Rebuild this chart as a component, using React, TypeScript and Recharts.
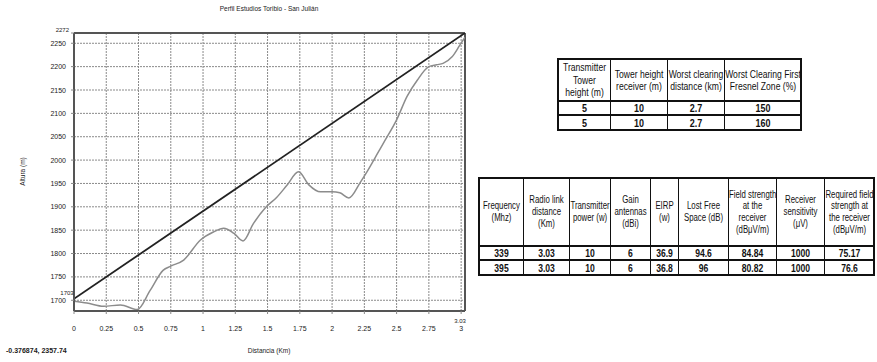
import React from 'react';
import { ComposedChart, Line, XAxis, YAxis, CartesianGrid, ReferenceLine } from 'recharts';

const FONT = "'Liberation Sans', Arial, sans-serif";

// Terrain profile (km, m)
const distances = [0, 0.1, 0.23, 0.36, 0.49, 0.59, 0.69, 0.75, 0.85, 0.98, 1.08, 1.16, 1.24, 1.31, 1.39, 1.49, 1.57, 1.65, 1.74, 1.82, 1.91, 2.0, 2.06, 2.13, 2.22, 2.27, 2.36, 2.41, 2.5, 2.58, 2.66, 2.75, 2.81, 2.86, 2.93, 2.99, 3.03];
const terrainHeights = [1698, 1694, 1687, 1690, 1680, 1721, 1764, 1773, 1786, 1829, 1846, 1854, 1843, 1827, 1864, 1900, 1920, 1946, 1975, 1947, 1932, 1932, 1930, 1919, 1953, 1975, 2018, 2042, 2086, 2136, 2171, 2200, 2204, 2207, 2221, 2246, 2263];

// Line of sight
const losDistances = [0, 3.03];
const losHeights = [1703, 2272];

const xTicks = [0, 0.25, 0.5, 0.75, 1, 1.25, 1.5, 1.75, 2, 2.25, 2.5, 2.75, 3];
const xTickLabels = ['0', '0.25', '0.5', '0.75', '1', '1.25', '1.5', '1.75', '2', '2.25', '2.5', '2.75', '3'];
const yTicks = [1700, 1750, 1800, 1850, 1900, 1950, 2000, 2050, 2100, 2150, 2200, 2250, 2272];
const xMax = 3.03;
const yMin = 1677;
const yMax = 2272;

// Tables
const table1Headers = ['Transmitter\nTower\nheight (m)', 'Tower height\nreceiver (m)', 'Worst clearing\ndistance (km)', 'Worst Clearing First\nFresnel Zone (%)'];
const table1Rows = [
  ['5', '10', '2.7', '150'],
  ['5', '10', '2.7', '160'],
];
const table2Headers = ['Frequency\n(Mhz)', 'Radio link\ndistance\n(Km)', 'Transmitter\npower (w)', 'Gain\nantennas\n(dBi)', 'EIRP\n(w)', 'Lost Free\nSpace (dB)', 'Field strength\nat the\nreceiver\n(dBμV/m)', 'Receiver\nsensitivity\n(μV)', 'Required field\nstrength at\nthe receiver\n(dBμV/m)'];
const table2Rows = [
  ['339', '3.03', '10', '6', '36.9', '94.6', '84.84', '1000', '75.17'],
  ['395', '3.03', '10', '6', '36.8', '96', '80.82', '1000', '76.6'],
];

const table1ColWidths = [52, 57, 57, 77];
const table2ColWidths = [44, 46, 41, 40, 28, 50, 48, 48, 50];

const terrainData = distances.map((d, i) => ({ d, h: terrainHeights[i] }));
const losData = losDistances.map((d, i) => ({ d, h: losHeights[i] }));

const XTick = (props: any) => {
  const { x, y, payload, index } = props;
  const v = payload.value;
  const label = xTickLabels[index] ?? String(v);
  return (
    <g>
      {v === 3 && (
        <text x={x - 1} y={y + 7} textAnchor="middle" fontSize={6} fill="#222" fontFamily={FONT}>
          {String(xMax)}
        </text>
      )}
      <text x={x} y={y + 15} textAnchor="middle" fontSize={7} fill="#222" fontFamily={FONT}>
        {label}
      </text>
    </g>
  );
};

const YTick = (props: any) => {
  const { x, y, payload } = props;
  const v = payload.value;
  const shift = v === yMax ? 3 : 0;
  const dy = v === yMax ? -1 : 2.5;
  return (
    <text x={x + shift} y={y + dy} textAnchor="end" fontSize={v === yMax ? 6 : 7} fill="#222" fontFamily={FONT}>
      {String(v)}
    </text>
  );
};

const StartLabel = (props: any) => {
  const { x, y, index } = props;
  if (index !== 0) return null;
  return (
    <text x={x - 7} y={y - 4} textAnchor="middle" fontSize={6} fill="#222" fontFamily={FONT}>
      {String(losHeights[0])}
    </text>
  );
};

const cellBase: React.CSSProperties = {
  border: '1px solid #111',
  padding: 0,
  textAlign: 'center',
  verticalAlign: 'middle',
  fontFamily: FONT,
  color: '#111',
  overflow: 'visible',
};

const SQ = 0.78;

const Squeeze = ({ w, children, style }: { w: number; children: React.ReactNode; style?: React.CSSProperties }) => (
  <div
    style={{
      width: w / SQ,
      marginRight: w - w / SQ,
      transform: `scaleX(${SQ})`,
      transformOrigin: '0 50%',
      whiteSpace: 'pre',
      textAlign: 'center',
      ...style,
    }}
  >
    {children}
  </div>
);

export default function App() {
  return (
    <div style={{ position: 'absolute', left: 0, top: 0, width: 877, height: 362, background: '#fff', overflow: 'hidden' }}>
      <div style={{ position: 'absolute', left: 0, top: 0 }}>
        <ComposedChart width={480} height={362} margin={{ top: 33, right: 15, bottom: 0, left: 0 }}>
          <CartesianGrid stroke="#8a8a8a" strokeDasharray="2 1" strokeWidth={1} />
          <XAxis
            type="number"
            dataKey="d"
            domain={[0, xMax]}
            ticks={xTicks}
            allowDataOverflow
            height={51}
            tickSize={3}
            tickMargin={2}
            tickLine={{ stroke: '#888' }}
            axisLine={{ stroke: '#555', strokeWidth: 2 }}
            tick={<XTick />}
            interval={0}
          />
          <YAxis
            type="number"
            dataKey="h"
            domain={[yMin, yMax]}
            ticks={yTicks}
            allowDataOverflow
            width={74}
            tickSize={3}
            tickMargin={5}
            tickLine={{ stroke: '#888' }}
            axisLine={{ stroke: '#555', strokeWidth: 2 }}
            tick={<YTick />}
            interval={0}
          />
          <ReferenceLine y={yMax} stroke="#555" strokeWidth={2} />
          <ReferenceLine x={xMax} stroke="#555" strokeWidth={2} />
          <Line
            data={terrainData}
            dataKey="h"
            type="monotone"
            stroke="#8c8c8c"
            strokeWidth={1.5}
            dot={false}
            isAnimationActive={false}
          />
          <Line
            data={losData}
            dataKey="h"
            type="linear"
            stroke="#222"
            strokeWidth={1.8}
            dot={false}
            label={<StartLabel />}
            isAnimationActive={false}
          />
        </ComposedChart>
      </div>

      <div style={{ position: 'absolute', left: 169, top: 5, width: 200, textAlign: 'center', fontFamily: FONT, fontSize: 6.5, color: '#222' }}>
        Perfil Estudios Toribio - San Julián
      </div>
      <div style={{ position: 'absolute', left: 169, top: 347, width: 200, textAlign: 'center', fontFamily: FONT, fontSize: 6.5, color: '#222' }}>
        Distancia (Km)
      </div>
      <div style={{ position: 'absolute', left: -28, top: 168, width: 100, textAlign: 'center', fontFamily: FONT, fontSize: 6.5, color: '#222', transform: 'rotate(-90deg)' }}>
        Altura (m)
      </div>
      <div style={{ position: 'absolute', left: 6, top: 347, fontFamily: FONT, fontSize: 7, fontWeight: 'bold', color: '#222' }}>
        -0.376874, 2357.74
      </div>

      <table style={{ position: 'absolute', left: 557, top: 58, borderCollapse: 'collapse', border: '2px solid #111', tableLayout: 'fixed', width: 243 }}>
        <colgroup>
          {table1ColWidths.map((w, i) => <col key={i} style={{ width: w }} />)}
        </colgroup>
        <tbody>
          <tr style={{ height: 42 }}>
            {table1Headers.map((h, i) => (
              <td key={i} style={{ ...cellBase, fontSize: 11, lineHeight: '12.5px' }}>
                <Squeeze w={table1ColWidths[i] - 1}>{h}</Squeeze>
              </td>
            ))}
          </tr>
          {table1Rows.map((r, ri) => (
            <tr key={ri} style={{ height: ri === 0 ? 14 : 15 }}>
              {r.map((c, ci) => (
                <td key={ci} style={{ ...cellBase, fontSize: 11.5, lineHeight: '12px', fontWeight: 'bold', borderTop: '2px solid #111' }}>
                  <Squeeze w={table1ColWidths[ci] - 1}>{c}</Squeeze>
                </td>
              ))}
            </tr>
          ))}
        </tbody>
      </table>

      <table style={{ position: 'absolute', left: 478, top: 177, borderCollapse: 'collapse', border: '2px solid #111', tableLayout: 'fixed', width: 395 }}>
        <colgroup>
          {table2ColWidths.map((w, i) => <col key={i} style={{ width: w }} />)}
        </colgroup>
        <tbody>
          <tr style={{ height: 68 }}>
            {table2Headers.map((h, i) => (
              <td key={i} style={{ ...cellBase, fontSize: 10, lineHeight: '11.7px' }}>
                <Squeeze w={table2ColWidths[i] - 1}>{h}</Squeeze>
              </td>
            ))}
          </tr>
          {table2Rows.map((r, ri) => (
            <tr key={ri} style={{ height: ri === 0 ? 14 : 15 }}>
              {r.map((c, ci) => (
                <td key={ci} style={{ ...cellBase, fontSize: 11, lineHeight: '12px', fontWeight: 'bold', borderTop: '2px solid #111' }}>
                  <Squeeze w={table2ColWidths[ci] - 1}>{c}</Squeeze>
                </td>
              ))}
            </tr>
          ))}
        </tbody>
      </table>
    </div>
  );
}
